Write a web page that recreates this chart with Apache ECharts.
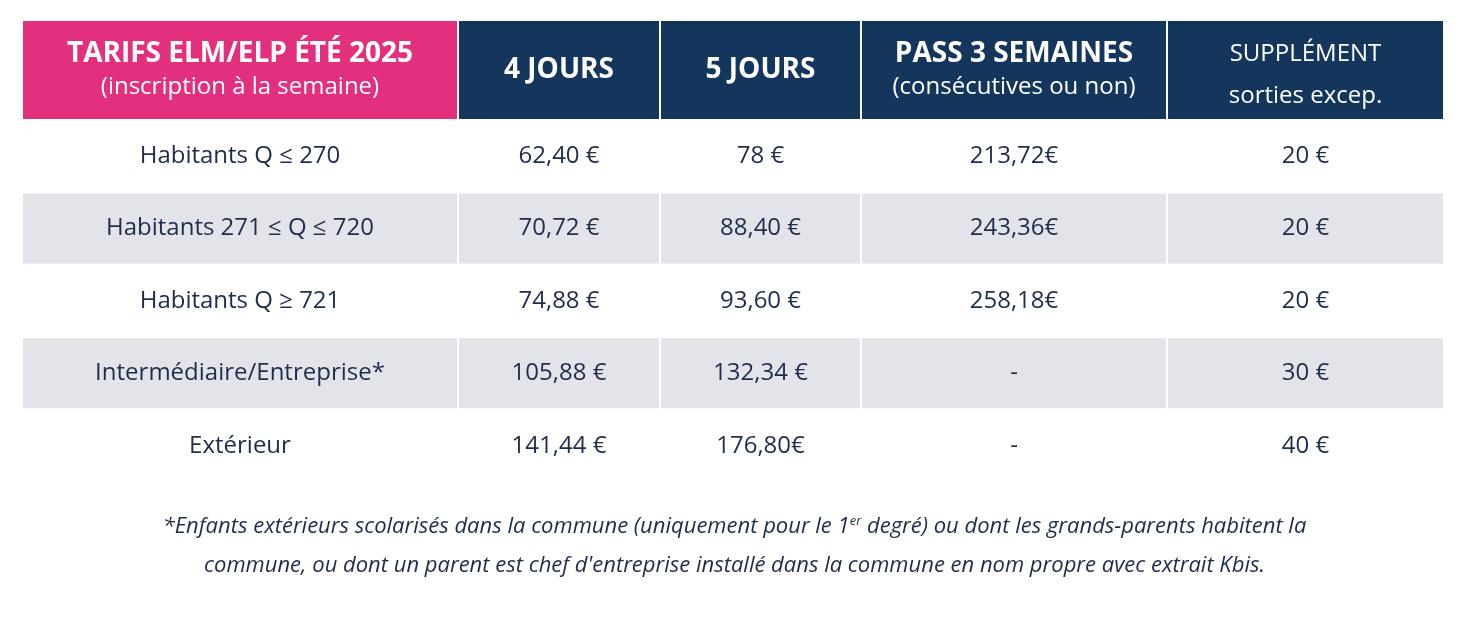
<!DOCTYPE html>
<html><head><meta charset="utf-8">
<script src="https://cdn.jsdelivr.net/npm/echarts@6/dist/echarts.min.js"></script>
<style>html,body{margin:0;background:#fff}#c{width:1469px;height:637px}</style>
</head><body><div id="c"></div>
<script>
const headers = [
  ['TARIFS ELM/ELP ÉTÉ 2025', '(inscription à la semaine)'],
  ['4 JOURS', ''],
  ['5 JOURS', ''],
  ['PASS 3 SEMAINES', '(consécutives ou non)'],
  ['SUPPLÉMENT', 'sorties excep.']
];
const categories = ['Habitants Q ≤ 270', 'Habitants 271 ≤ Q ≤ 720', 'Habitants Q ≥ 721', 'Intermédiaire/Entreprise*', 'Extérieur'];
const jours4 = ['62,40 €', '70,72 €', '74,88 €', '105,88 €', '141,44 €'];
const jours5 = ['78 €', '88,40 €', '93,60 €', '132,34 €', '176,80€'];
const pass3 = ['213,72€', '243,36€', '258,18€', '-', '-'];
const supplement = ['20 €', '20 €', '20 €', '30 €', '40 €'];
const footnote = ['*Enfants extérieurs scolarisés dans la commune (uniquement pour le 1{s|er} degré) ou dont les grands-parents habitent la',
  'commune, ou dont un parent est chef d\'entreprise installé dans la commune en nom propre avec extrait Kbis.'];

// layout (in axis units = px)
const colWidths = [436, 202, 201, 306, 277];
const headerH = 100, rowH = 72.4;
const colStart = colWidths.map((w, i) => colWidths.slice(0, i).reduce((a, b) => a + b, 0));
const columns = [categories, jours4, jours5, pass3, supplement];

const cells = [];
headers.forEach((h, c) => cells.push([c, -1]));
categories.forEach((_, r) => columns.forEach((col, c) => cells.push([c, r])));

const FONT = '"Open Sans", "Noto Sans", sans-serif';
const chart = echarts.init(document.getElementById('c'));
chart.setOption({
  animation: false,
  grid: { left: 22, right: 25, top: 20, bottom: 637 - 20 - headerH - rowH * 5 },
  xAxis: { type: 'value', min: 0, max: 1422, show: false },
  yAxis: { type: 'value', min: 0, max: headerH + rowH * 5, inverse: true, show: false },
  graphic: footnote.map((t, i) => ({
    type: 'text', left: 'center', top: 515 + i * 40,
    style: { text: t, font: 'italic 22px ' + FONT, fill: '#1f2d4a',
      rich: { s: { fontSize: 13, verticalAlign: 'top', fontStyle: 'italic', fontFamily: FONT, fill: '#1f2d4a', padding: [0, 0, 10, 0] } } }
  })),
  series: [{
    type: 'custom',
    data: cells,
    renderItem: (params, api) => {
      const c = api.value(0), r = api.value(1);
      const y0 = r < 0 ? 0 : headerH + r * rowH;
      const h = r < 0 ? headerH : rowH;
      const p0 = api.coord([colStart[c], y0]);
      const p1 = api.coord([colStart[c] + colWidths[c], y0 + h]);
      const x = p0[0], y = p0[1], w = p1[0] - p0[0], hh = p1[1] - p0[1];
      let fill, text, rich = {};
      if (r < 0) {
        fill = c === 0 ? '#e2307f' : '#14365c';
        const [a, b] = headers[c];
        if (c === 4) {
          text = '{r|' + a + '}\n{r2|' + b + '}';
        } else {
          text = '{b|' + a + '}' + (b ? '\n{r|' + b + '}' : '');
        }
        rich = {
          b: { fontFamily: FONT, fontWeight: 'bold', fontSize: 28, fill: '#fff', lineHeight: 34 },
          r: { fontFamily: FONT, fontSize: 24, fill: '#fff', lineHeight: 32 },
          r2: { fontFamily: FONT, fontSize: 24, fill: '#fff', lineHeight: 32, padding: [20, 0, 0, 0] }
        };
      } else {
        fill = r % 2 === 1 ? '#e3e3ea' : '#ffffff';
        text = '{d|' + columns[c][r] + '}';
        rich = { d: { fontFamily: FONT, fontSize: 24, fill: '#1f2d4a' } };
      }
      return {
        type: 'group',
        children: [
          { type: 'rect', shape: { x, y, width: w, height: hh }, style: { fill, stroke: '#fff', lineWidth: 2 } },
          { type: 'text', x: x + w / 2, y: y + hh / 2,
            style: { text, rich, align: 'center', verticalAlign: 'middle' } }
        ]
      };
    }
  }]
});
</script></body></html>
